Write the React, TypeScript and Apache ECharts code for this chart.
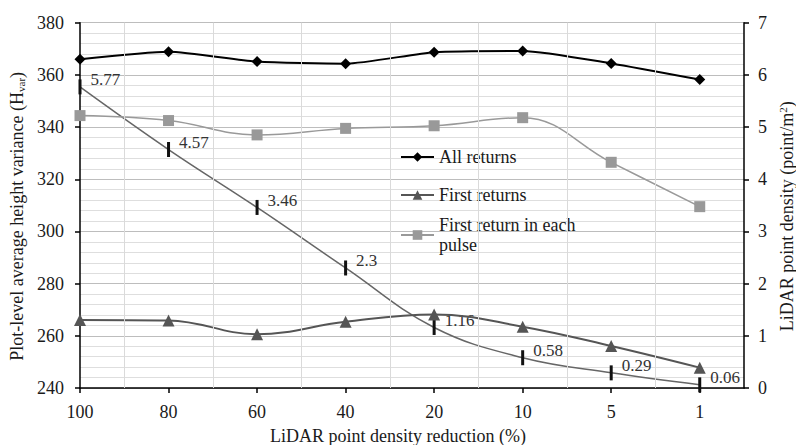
import React, { useEffect, useRef } from "react";
import * as echarts from "echarts";

const categories = ["100", "80", "60", "40", "20", "10", "5", "1"];
const allReturns = [366.0, 368.9, 365.1, 364.3, 368.7, 369.2, 364.4, 358.2];
const firstReturns = [266.1, 265.9, 260.6, 265.4, 268.2, 263.5, 256.1, 247.8];
const firstEachPulse = [344.4, 342.5, 337.0, 339.5, 340.5, 343.6, 326.5, 309.5];
const density = [5.77, 4.57, 3.46, 2.3, 1.16, 0.58, 0.29, 0.06];
const leftAxisRange = [240, 380, 20];
const rightAxisRange = [0, 7, 1];
const verticalGridPositions = [0.5, 1.5, 2.5, 3.5, 4.5, 5.5, 6.5];

const FONT = "Liberation Serif";
const TEXT = "#1a1a1a";

const toPairs = (arr: number[]) => arr.map((v, i) => [i, v]);

export default function App() {
  const ref = useRef<HTMLDivElement>(null);
  useEffect(() => {
    if (!ref.current) return;
    const chart = echarts.init(ref.current, null, { renderer: "svg" });
    const option: any = {
      animation: false,
      backgroundColor: "#ffffff",
      textStyle: { fontFamily: FONT, color: TEXT },
      grid: { left: 80, right: 52, top: 22.7, bottom: 57, containLabel: false, outerBoundsMode: "none" },
      legend: [
        {
          orient: "vertical",
          left: 400,
          top: 147,
          padding: 0,
          itemWidth: 33,
          itemHeight: 12,
          itemGap: 18,
          textStyle: { fontFamily: FONT, fontSize: 18, color: TEXT, lineHeight: 20 },
          data: ["All returns", "First returns"],
        },
        {
          orient: "vertical",
          left: 400,
          top: 205,
          padding: 0,
          itemWidth: 33,
          itemHeight: 12,
          textStyle: { fontFamily: FONT, fontSize: 18, color: TEXT, lineHeight: 20 },
          formatter: () => "First return in each\npulse",
          data: [
            {
              name: "First return in each pulse",
              textStyle: { padding: [20, 0, 0, 0] },
            },
          ],
        },
      ],
      xAxis: {
        type: "value",
        min: 0,
        max: 7.5,
        interval: 1,
        name: "LiDAR point density reduction (%)",
        nameLocation: "middle",
        nameGap: 39,
        nameTextStyle: {
          fontFamily: FONT,
          fontSize: 18,
          color: TEXT,
          padding: [0, 28, 0, 0],
        },
        axisLine: { show: true, lineStyle: { color: "#000", width: 1.5 } },
        axisTick: { show: true, inside: false, length: 5, lineStyle: { color: "#000", width: 1.5 } },
        axisLabel: {
          fontFamily: FONT,
          fontSize: 18,
          color: TEXT,
          margin: 15,
          showMaxLabel: false,
          formatter: (v: number) => (Number.isInteger(v) ? categories[v] ?? "" : ""),
        },
        splitLine: { show: false },
      },
      yAxis: [
        {
          type: "value",
          min: leftAxisRange[0],
          max: leftAxisRange[1],
          interval: leftAxisRange[2],
          position: "left",
          name: "Plot-level average height variance (H{sub|var})",
          nameLocation: "middle",
          nameRotate: 90,
          nameGap: 44,
          nameTextStyle: {
            fontFamily: FONT,
            fontSize: 18,
            color: TEXT,
            padding: [0, 22, 0, 0],
            rich: {
              sub: { fontFamily: FONT, fontSize: 11, color: TEXT, verticalAlign: "bottom", padding: [8, 0, 0, 0] },
            },
          },
          axisLine: { show: true, lineStyle: { color: "#000", width: 1.5 } },
          axisTick: { show: true, inside: false, length: 5, lineStyle: { color: "#000", width: 1.5 } },
          axisLabel: { fontFamily: FONT, fontSize: 18, color: TEXT, margin: 16 },
          splitLine: { show: true, lineStyle: { color: "#bdbdbd", width: 1 } },
          minorTick: { show: false, splitNumber: 5 },
          minorSplitLine: { show: true, lineStyle: { color: "#dedede", width: 1 } },
        },
        {
          type: "value",
          min: rightAxisRange[0],
          max: rightAxisRange[1],
          interval: rightAxisRange[2],
          position: "right",
          name: "LiDAR point density (point/m{sup|2})",
          nameLocation: "middle",
          nameRotate: 90,
          nameGap: 31,
          nameTextStyle: {
            fontFamily: FONT,
            fontSize: 18,
            color: TEXT,
            padding: [0, 22, 0, 0],
            rich: {
              sup: { fontFamily: FONT, fontSize: 11, color: TEXT, verticalAlign: "top", padding: [0, 0, 8, 0] },
            },
          },
          axisLine: { show: true, lineStyle: { color: "#000", width: 1.5 } },
          axisTick: { show: true, inside: false, length: 5, lineStyle: { color: "#000", width: 1.5 } },
          axisLabel: { fontFamily: FONT, fontSize: 18, color: TEXT, margin: 14 },
          splitLine: { show: false },
        },
      ],
      series: [
        {
          name: "grid",
          type: "line",
          data: [],
          z: 0,
          silent: true,
          markLine: {
            silent: true,
            symbol: ["none", "none"],
            label: { show: false },
            lineStyle: { type: "solid", color: "#dadada", width: 1 },
            data: verticalGridPositions.map((x) => ({ xAxis: x })),
          },
        },
        {
          name: "Density",
          type: "line",
          yAxisIndex: 1,
          data: toPairs(density),
          smooth: 0.4,
          symbol: "rect",
          symbolSize: [3, 15],
          itemStyle: { color: "#111" },
          lineStyle: { color: "#666", width: 1.5 },
          label: {
            show: true,
            position: "right",
            distance: 9,
            offset: [0, -7],
            fontFamily: FONT,
            fontSize: 17,
            color: "#333",
            formatter: (p: any) => String(density[p.dataIndex]),
          },
          z: 2,
        },
        {
          name: "First return in each pulse",
          type: "line",
          data: toPairs(firstEachPulse),
          smooth: 0.4,
          symbol: "rect",
          symbolSize: 11,
          itemStyle: { color: "#999" },
          lineStyle: { color: "#999", width: 1.5 },
          z: 3,
        },
        {
          name: "First returns",
          type: "line",
          data: toPairs(firstReturns),
          smooth: 0.4,
          symbol: "triangle",
          symbolSize: 12,
          itemStyle: { color: "#555" },
          lineStyle: { color: "#555", width: 2 },
          z: 3,
        },
        {
          name: "All returns",
          type: "line",
          data: toPairs(allReturns),
          smooth: 0.2,
          symbol: "diamond",
          symbolSize: 11,
          itemStyle: { color: "#000" },
          lineStyle: { color: "#000", width: 2 },
          z: 4,
        },
      ],
    };
    chart.setOption(option);
    return () => chart.dispose();
  }, []);
  return (
    <div
      ref={ref}
      style={{ position: "fixed", left: 0, top: 0, width: 796, height: 445, background: "#fff" }}
    />
  );
}
